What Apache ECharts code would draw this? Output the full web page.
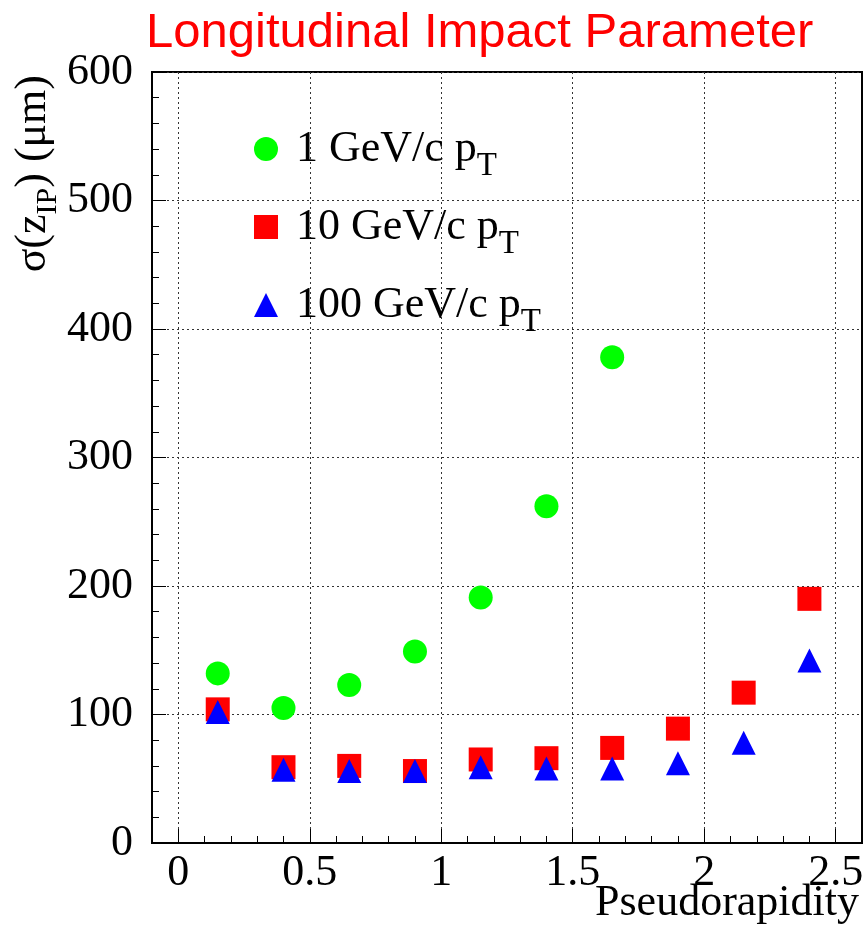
<!DOCTYPE html>
<html><head><meta charset="utf-8">
<script src="https://cdn.jsdelivr.net/npm/echarts@6/dist/echarts.min.js"></script>
<style>html,body{margin:0;padding:0;background:#fff}#c{width:864px;height:928px}</style>
</head><body><div id="c"></div>
<script>
// ---- data ----
const eta = [0.15, 0.4, 0.65, 0.9, 1.15, 1.4, 1.65, 1.9, 2.15, 2.4];
const sigma1GeV = [132, 105, 123, 149, 191, 262, 378];
const sigma10GeV = [104, 59, 60, 56, 65, 66, 74, 89, 117, 190];
const sigma100GeV = [102, 57, 56, 56, 59, 58, 58, 62, 78, 142];
const seriesNames = ['1 GeV/c p_T', '10 GeV/c p_T', '100 GeV/c p_T'];
const xTickValues = [0, 0.5, 1, 1.5, 2, 2.5];
const yTickValues = [0, 100, 200, 300, 400, 500, 600];
const xTitle = 'Pseudorapidity';
const yTitleRich = '{a|σ(z}{s|IP}{a|) (μm)}';

const SERIF = 'Liberation Serif';
const toPts = arr => arr.map((v, i) => [eta[i], v]);

const chart = echarts.init(document.getElementById('c'), null, {renderer: 'canvas'});
const dotted = {color: '#333', width: 1, type: [2, 3]};

chart.setOption({
  animation: false,
  backgroundColor: '#fff',
  title: {
    text: 'Longitudinal Impact Parameter',
    left: 146, top: 9, padding: 0,
    textStyle: {fontFamily: 'Liberation Sans', fontWeight: 'normal', fontSize: 49, color: '#ff0000'}
  },
  grid: {
    left: 152, right: 2, top: 72, bottom: 85,
    containLabel: false, outerBoundsMode: 'none',
    show: true, borderColor: '#000', borderWidth: 2, backgroundColor: 'transparent'
  },
  legend: {
    orient: 'vertical', left: 254, top: 127, padding: 0,
    itemWidth: 24, itemHeight: 24, itemGap: 22,
    data: [
      {name: seriesNames[0], icon: 'circle'},
      {name: seriesNames[1], icon: 'rect'},
      {name: seriesNames[2], icon: 'triangle'}
    ],
    formatter: n => {
      const p = n.split('_');
      return '{a|' + p[0] + '}{s|' + p[1] + '}';
    },
    textStyle: {
      fontFamily: SERIF, fontSize: 44, color: '#000', padding: [0, 0, 0, 13],
      rich: {
        a: {fontFamily: SERIF, fontSize: 44, lineHeight: 68, color: '#000'},
        s: {fontFamily: SERIF, fontSize: 33, verticalAlign: 'bottom', color: '#000'}
      }
    }
  },
  xAxis: [
    {
      type: 'value', min: -0.1, max: 2.6, position: 'bottom',
      axisLine: {show: true, onZero: false, lineStyle: {color: '#000', width: 2}},
      axisTick: {show: true, inside: true, length: 14, customValues: xTickValues, lineStyle: {color: '#000', width: 1}},
      axisLabel: {show: true, customValues: xTickValues, margin: 8, fontFamily: SERIF, fontSize: 44, color: '#000',
        formatter: v => String(v)},
      splitLine: {show: true, lineStyle: dotted}
    },
    {
      type: 'value', min: -0.1, max: 2.6, interval: 0.1, position: 'bottom',
      axisLine: {show: false},
      axisTick: {show: true, inside: true, length: 7, lineStyle: {color: '#000', width: 1}},
      axisLabel: {show: false},
      splitLine: {show: false}
    }
  ],
  yAxis: {
    type: 'value', min: 0, max: 600, interval: 100,
    axisLine: {show: true, onZero: false, lineStyle: {color: '#000', width: 2}},
    axisTick: {show: true, inside: true, length: 14, lineStyle: {color: '#000', width: 1}},
    minorTick: {show: true, splitNumber: 5, length: 7, lineStyle: {color: '#000', width: 1}},
    axisLabel: {show: true, margin: 19, fontFamily: SERIF, fontSize: 44, color: '#000',
      formatter: v => yTickValues.includes(v) ? String(v) : ''},
    splitLine: {show: true, lineStyle: dotted}
  },
  graphic: [
    {
      type: 'text', x: 33, y: 75, rotation: Math.PI / 2,
      style: {
        text: yTitleRich,
        align: 'right', verticalAlign: 'middle',
        fontFamily: SERIF, fontSize: 44, fill: '#000',
        rich: {
          a: {fontFamily: SERIF, fontSize: 44, lineHeight: 60, fill: '#000'},
          s: {fontFamily: SERIF, fontSize: 30, verticalAlign: 'bottom', fill: '#000'}
        }
      }
    },
    {
      type: 'text', x: 859, y: 925,
      style: {
        text: xTitle, align: 'right', verticalAlign: 'bottom',
        fontFamily: SERIF, fontSize: 44, fill: '#000'
      }
    }
  ],
  series: [
    {name: seriesNames[0], type: 'scatter', symbol: 'circle', symbolSize: 24,
      itemStyle: {color: '#00ff00', opacity: 1}, data: toPts(sigma1GeV), z: 3},
    {name: seriesNames[1], type: 'scatter', symbol: 'rect', symbolSize: 24,
      itemStyle: {color: '#ff0000', opacity: 1}, data: toPts(sigma10GeV), z: 4},
    {name: seriesNames[2], type: 'scatter', symbol: 'triangle', symbolSize: 24,
      itemStyle: {color: '#0000ff', opacity: 1}, data: toPts(sigma100GeV), z: 5}
  ]
});
</script>
</body></html>
